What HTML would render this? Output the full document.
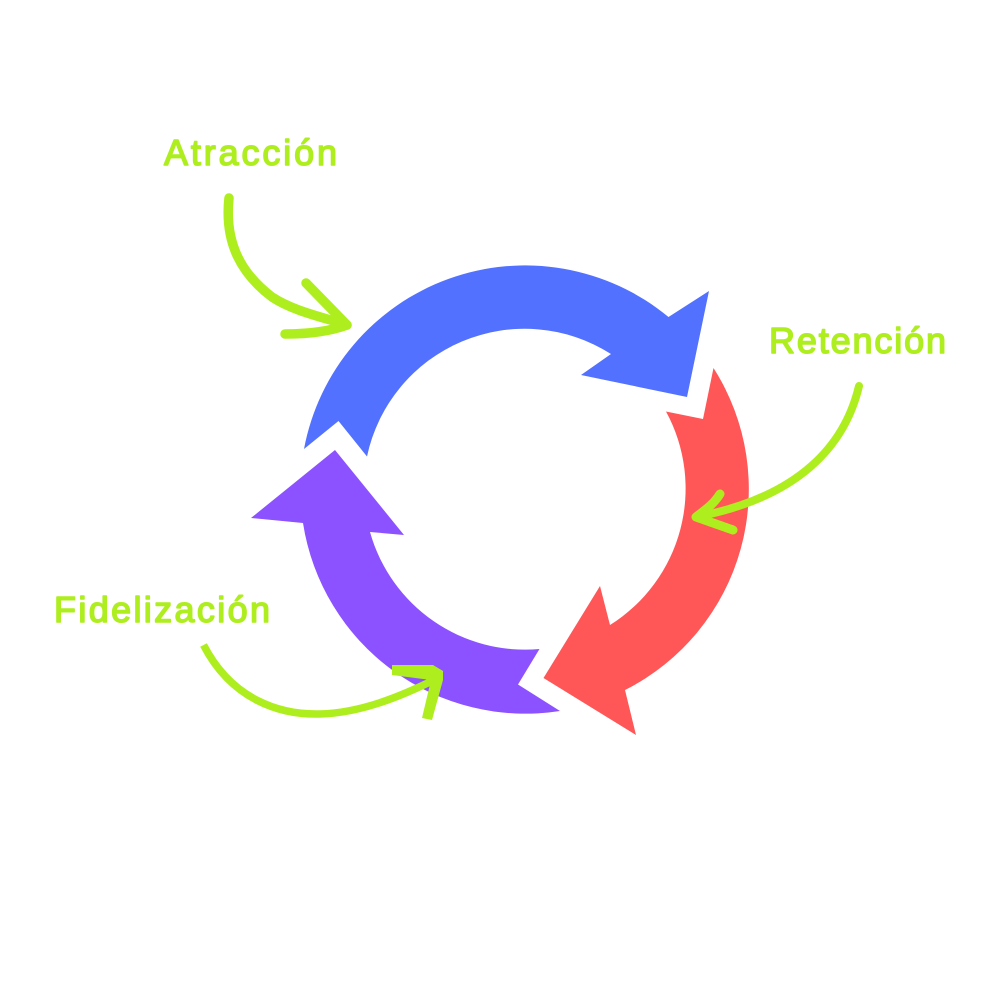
<!DOCTYPE html>
<html lang="es">
<head>
<meta charset="utf-8">
<title>Ciclo</title>
<style>
html,body{margin:0;padding:0;background:#fff;width:1000px;height:1000px;overflow:hidden}
svg{display:block}
text{font-family:"Liberation Sans",sans-serif;font-size:36px;fill:#aeee1e;stroke:#aeee1e;stroke-width:1.5px;stroke-linejoin:round}
</style>
</head>
<body>
<svg width="1000" height="1000" viewBox="0 0 1000 1000" xmlns="http://www.w3.org/2000/svg">
<rect width="1000" height="1000" fill="#fff"/>

<path fill="#5271ff" d="M304 449 L338.500 421 L367 456.500 A161 161 0 0 1 611 354 L581 375 L687 397 L709 291 L668.500 317 A225 225 0 0 0 304 449 Z"/>
<path fill="#ff5757" d="M713.500 368 L703 419 L666 411.500 A161 161 0 0 1 610 625 L600 586 L543.500 678 L636 735 L625 690 A225 225 0 0 0 713.500 368 Z"/>
<path fill="#8c52ff" d="M560 711 L518 684.500 L539.500 649 A161 161 0 0 1 370 532 L404 535 L335 450 L251 518 L303 523 A225 225 0 0 0 560 711 Z"/>

<g fill="none" stroke="#aeee1e" stroke-linecap="round" stroke-linejoin="round">
<path stroke-width="9.500" d="M229 198 C224 245 243 275 272 297 C293 311 322 317 347 325"/>
<path stroke-width="9.500" d="M306 283 L347 325 C328 332 306 334 285 334"/>
<path stroke-width="8" d="M859 386 C845 445 800 497 696 517"/>
<path stroke-width="9" d="M720 494 C713 505 705 510 696 517 L733 530"/>
</g>
<path fill="none" stroke="#aeee1e" stroke-width="7.500" d="M203.500 645 C232 700 280 715 320 714 C360 713 400 697 438 678"/>
<path fill="#aeee1e" d="M392 665 L433 665 L443 671 L443 680 L432 720 L422 718 L431 680 L392 675 Z"/>

<text x="164" y="165" textLength="173" lengthAdjust="spacing">Atracción</text>
<text x="769" y="353" textLength="177" lengthAdjust="spacing">Retención</text>
<text x="54" y="622" textLength="216" lengthAdjust="spacing">Fidelización</text>
</svg>
</body>
</html>
